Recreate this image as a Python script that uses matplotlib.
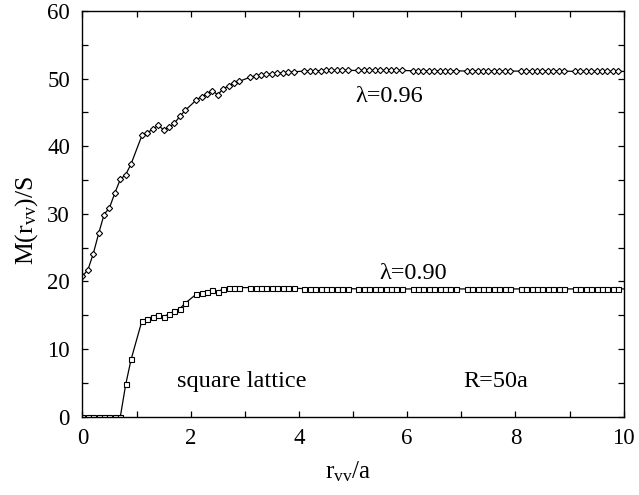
import matplotlib
matplotlib.use("Agg")
import matplotlib.pyplot as plt
from matplotlib.ticker import MultipleLocator

plt.rcParams['font.family'] = ['Liberation Serif', 'DejaVu Serif']
plt.rcParams['mathtext.fontset'] = 'custom'
plt.rcParams['mathtext.rm'] = 'Liberation Serif'
plt.rcParams['mathtext.it'] = 'Liberation Serif:italic'

# x positions (r_vv / a); no sample at the integer values 1..9
x_096 = [0.0, 0.1, 0.2, 0.3, 0.4, 0.5, 0.6, 0.7, 0.8, 0.9,
         1.1, 1.2, 1.3, 1.4, 1.5, 1.6, 1.7, 1.8, 1.9,
         2.1, 2.2, 2.3, 2.4, 2.5, 2.6, 2.7, 2.8, 2.9,
         3.1, 3.2, 3.3, 3.4, 3.5, 3.6, 3.7, 3.8, 3.9,
         4.1, 4.2, 4.3, 4.4, 4.5, 4.6, 4.7, 4.8, 4.9,
         5.1, 5.2, 5.3, 5.4, 5.5, 5.6, 5.7, 5.8, 5.9,
         6.1, 6.2, 6.3, 6.4, 6.5, 6.6, 6.7, 6.8, 6.9,
         7.1, 7.2, 7.3, 7.4, 7.5, 7.6, 7.7, 7.8, 7.9,
         8.1, 8.2, 8.3, 8.4, 8.5, 8.6, 8.7, 8.8, 8.9,
         9.1, 9.2, 9.3, 9.4, 9.5, 9.6, 9.7, 9.8, 9.9, 10.0]
y_096 = [20.8, 21.7, 24.1, 27.1, 29.9, 30.9, 33.1, 35.1, 35.8, 37.4,
         41.6, 42.0, 42.5, 43.1, 42.4, 42.8, 43.4, 44.4, 45.3,
         46.8, 47.3, 47.7, 48.2, 47.6, 48.5, 48.9, 49.3, 49.6,
         50.2, 50.4, 50.5, 50.6, 50.7, 50.8, 50.85, 50.9, 51.0,
         51.1, 51.1, 51.15, 51.15, 51.2, 51.2, 51.2, 51.2, 51.2,
         51.2, 51.2, 51.2, 51.2, 51.2, 51.2, 51.2, 51.2, 51.2,
         51.15, 51.15, 51.15, 51.15, 51.15, 51.15, 51.15, 51.15, 51.15,
         51.1, 51.1, 51.1, 51.1, 51.1, 51.1, 51.1, 51.1, 51.1,
         51.1, 51.1, 51.1, 51.1, 51.1, 51.1, 51.1, 51.1, 51.1,
         51.05, 51.05, 51.05, 51.05, 51.05, 51.05, 51.05, 51.05, 51.05, 51.05]

x_090 = list(x_096)
y_090 = [0.0, 0.0, 0.0, 0.0, 0.0, 0.0, 0.0, 0.0, 4.8, 8.5,
         14.2, 14.5, 14.8, 15.1, 14.8, 15.2, 15.6, 16.0, 16.8,
         18.1, 18.3, 18.5, 18.7, 18.5, 18.9, 19.1, 19.1, 19.1,
         19.1, 19.1, 19.1, 19.05, 19.05, 19.05, 19.0, 19.0, 19.0,
         18.95, 18.95, 18.95, 18.95, 18.95, 18.95, 18.95, 18.95, 18.95,
         18.9, 18.9, 18.9, 18.9, 18.9, 18.9, 18.9, 18.9, 18.9,
         18.9, 18.9, 18.9, 18.9, 18.9, 18.9, 18.9, 18.9, 18.9,
         18.9, 18.9, 18.9, 18.9, 18.9, 18.9, 18.9, 18.9, 18.9,
         18.9, 18.9, 18.9, 18.9, 18.9, 18.9, 18.9, 18.9, 18.9,
         18.9, 18.9, 18.9, 18.9, 18.9, 18.9, 18.9, 18.9, 18.9, 18.9]

labels = ['λ=0.96', 'λ=0.90']
annot_text = ['square lattice', 'R=50a']

fig = plt.figure(figsize=(6.39, 4.95), dpi=100)
ax = fig.add_axes([0.129, 0.158, 0.847, 0.820])

marks = list(range(len(x_096) - 1))
ax.plot(x_096, y_096, color='black', lw=0.9, marker='D', markersize=3.2,
        markerfacecolor='white', markeredgecolor='black', markeredgewidth=0.8,
        markevery=marks)
ax.plot(x_090, y_090, color='black', lw=0.9, marker='s', markersize=3.6,
        markerfacecolor='white', markeredgecolor='black', markeredgewidth=0.8,
        markevery=marks)

ax.set_xlim(0, 10)
ax.set_ylim(0, 60)
ax.xaxis.set_major_locator(MultipleLocator(2))
ax.xaxis.set_minor_locator(MultipleLocator(1))
ax.yaxis.set_major_locator(MultipleLocator(10))
ax.yaxis.set_minor_locator(MultipleLocator(5))
ax.tick_params(which='both', direction='in', top=True, right=True,
               length=4, width=0.9, labelsize=16.5)
ax.tick_params(axis='x', which='major', pad=8)
ax.tick_params(axis='y', which='major', pad=9)
for s in ax.spines.values():
    s.set_linewidth(1.0)

ax.set_xlabel(r'r$_{\rm vv}$/a', fontsize=18)
ax.set_ylabel(r'M(r$_{\rm vv}$)/S', fontsize=18.5)
ax.xaxis.set_label_coords(0.49, -0.105)
ax.yaxis.set_label_coords(-0.078, 0.484)

ax.text(5.04, 46.5, labels[0], fontsize=17.5, va='baseline', ha='left')
ax.text(5.48, 20.3, labels[1], fontsize=17.5, va='baseline', ha='left')
ax.text(1.75, 4.39, annot_text[0], fontsize=17.5, va='baseline', ha='left')
ax.text(7.03, 4.39, annot_text[1], fontsize=17.5, va='baseline', ha='left')

fig.savefig('out.png', dpi=100)
